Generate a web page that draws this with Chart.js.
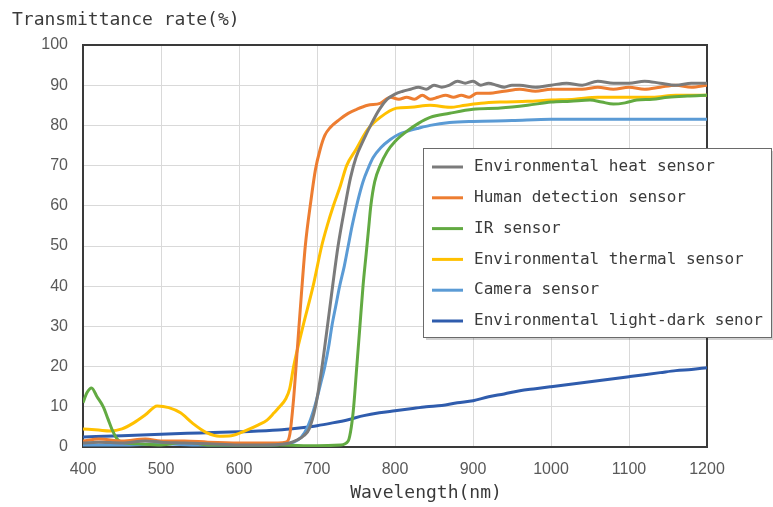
<!DOCTYPE html>
<html>
<head>
<meta charset="utf-8">
<script src="https://cdn.jsdelivr.net/npm/chart.js@4"></script>
<style>
html,body{margin:0;padding:0;background:#fff;}
canvas{display:block;}
</style>
</head>
<body>
<canvas id="c" width="773" height="507"></canvas>
<script>
// ---- data ----
const seriesLabels = ["Environmental heat sensor","Human detection sensor","IR sensor","Environmental thermal sensor","Camera sensor","Environmental light-dark senor"];
const seriesColors = ["#7b7b7b","#ED7D31","#62AA42","#FFC000","#5B9BD5","#2F5CAD"];

const heatX = [400,420,450,480,500,530,560,600,630,650,665,675,683,690,698,705,712,720,727,736,743,750,760,770,780,790,800,810,820,830,840,850,860,870,880,890,900,910,920,930,940,950,960,980,1000,1020,1040,1060,1080,1100,1120,1140,1160,1180,1200];
const heatY = [1,1.2,1,1.5,1.2,1,0.8,0.5,0.5,0.6,1,1.8,2.8,4.5,10,18,28,40,50,60,67,72,76.5,80.5,84,86.5,87.8,88.5,89,89.5,89,90,89.5,90,91,90.5,91,90,90.5,90,89.5,90,90,89.5,90,90.5,90,91,90.5,90.5,91,90.5,90,90.5,90.5];

const humanX = [400,420,450,480,500,530,560,600,630,650,660,665,670,675,680,685,692,698,704,710,717,729,740,751,765,781,794,805,815,825,835,845,855,865,875,885,895,905,920,940,960,980,1000,1020,1040,1060,1080,1100,1120,1140,1160,1180,1200];
const humanY = [1.5,2,1.5,2,1.5,1.5,1.2,1,1,1,1.2,3,12,25,38,50,61,69,74,77.5,79.5,81.5,83,84,85,85.5,87,86.5,87,86.5,87.5,86.5,87,87.5,87,87.5,87,88,88,88.5,89,88.5,89,89,89,89.5,89,89.5,89,89.5,90,89.5,90];

const irX = [400,405,411,418,426,432,438,445,455,470,500,533,560,600,650,700,730,740,744,747,751,755,759,763,766,769,774,781,790,800,815,830,845,870,900,935,970,1000,1025,1050,1065,1080,1095,1110,1130,1150,1175,1200];
const irY = [11,13.5,14.7,12.5,10,7,4,1.7,1,0.8,0.5,1.3,0.5,0.5,0.5,0.3,0.5,1.5,5,10,20,30,40,48,54,60,66,70,73.5,76,78.5,80.5,82,83,84,84.3,85,85.8,86,86.3,85.8,85.3,85.6,86.3,86.5,87,87.3,87.5];

const thermalX = [400,420,435,450,465,480,495,510,525,540,559,575,590,610,625,636,645,652,660,665,670,682,695,706,713,721,730,738,750,765,781,802,820,845,870,890,910,935,970,1000,1030,1060,1100,1130,1160,1200];
const thermalY = [4.5,4.2,4,4.5,6,8,10.2,9.8,8.5,6,3.5,2.7,2.8,4.2,5.5,6.7,8.5,10,12,14.5,20,30,40,50,55,60,65,70,74,79,82,84.3,84.5,85,84.5,85,85.5,85.8,86,86.3,86.5,87,87,87,87.5,87.5];

const cameraX = [400,450,500,550,600,640,660,670,680,688,697,705,710,715,719,724,729,735,740,745,752,759,766,772,782,794,805,815,830,845,870,900,950,1000,1050,1100,1150,1200];
const cameraY = [0.5,0.5,0.8,0.5,0.5,0.5,0.8,1.2,2.5,5,10,16,20,25,30,35,40,45,50,55,61,66,69.5,72,74.5,76.5,77.8,78.5,79.3,80,80.7,81,81.2,81.5,81.5,81.5,81.5,81.5];

const lightDarkX = [400,450,500,550,600,650,680,700,720,740,760,780,800,820,840,860,880,900,920,940,960,980,1000,1020,1040,1060,1080,1100,1120,1140,1160,1180,1200];
const lightDarkY = [2.5,2.8,3.2,3.5,3.8,4.2,4.8,5.3,6,6.8,7.8,8.5,9,9.5,10,10.3,11,11.5,12.5,13.2,14,14.5,15,15.5,16,16.5,17,17.5,18,18.5,19,19.3,19.7];

const xTicks = [400,500,600,700,800,900,1000,1100,1200];
const yTicks = [0,10,20,30,40,50,60,70,80,90,100];
const yTitle = "Transmittance rate(%)";
const xTitle = "Wavelength(nm)";

// ---- build ----
const allX = [heatX, humanX, irX, thermalX, cameraX, lightDarkX];
const allY = [heatY, humanY, irY, thermalY, cameraY, lightDarkY];
const datasets = seriesLabels.map((lab, i) => ({
  label: lab,
  data: allX[i].map((x, j) => ({x: x, y: allY[i][j]})),
  borderColor: seriesColors[i],
  backgroundColor: seriesColors[i],
  borderWidth: 3,
  pointRadius: 0,
  cubicInterpolationMode: 'monotone',
  fill: false
}));

const MONO = "'DejaVu Sans Mono', monospace";

const decor = {
  id: 'decor',
  beforeDatasetsDraw(chart) {
    const ctx = chart.ctx, a = chart.chartArea;
    ctx.save();
    ctx.strokeStyle = '#3a3a3a';
    ctx.lineWidth = 2;
    ctx.strokeRect(a.left, a.top, a.right - a.left, a.bottom - a.top);
    ctx.restore();
  },
  afterDraw(chart) {
    const ctx = chart.ctx, a = chart.chartArea;
    ctx.save();
    // titles
    ctx.fillStyle = '#3a3a3a';
    ctx.font = "18px " + MONO;
    ctx.textBaseline = 'middle';
    ctx.textAlign = 'left';
    ctx.fillText(yTitle, 12, 20);
    ctx.textAlign = 'center';
    ctx.fillText(xTitle, (a.left + a.right) / 2 + 31, a.bottom + 46);
    // legend box
    const bx = 423, by = 148, bw = 348, bh = 189;
    ctx.fillStyle = 'rgba(0,0,0,0.18)';
    ctx.fillRect(bx + 3, by + 3, bw, bh);
    ctx.fillStyle = '#ffffff';
    ctx.fillRect(bx, by, bw, bh);
    ctx.strokeStyle = '#6a6a6a';
    ctx.lineWidth = 1;
    ctx.strokeRect(bx + 0.5, by + 0.5, bw, bh);
    ctx.font = "16px " + MONO;
    ctx.textAlign = 'left';
    ctx.textBaseline = 'middle';
    chart.data.datasets.forEach((ds, i) => {
      const cy = 167 + i * 30.8;
      ctx.strokeStyle = ds.borderColor;
      ctx.lineWidth = 3;
      ctx.beginPath();
      ctx.moveTo(432, cy);
      ctx.lineTo(463, cy);
      ctx.stroke();
      ctx.fillStyle = '#3a3a3a';
      ctx.fillText(ds.label, 474, cy);
    });
    ctx.restore();
  }
};

new Chart(document.getElementById('c'), {
  type: 'line',
  data: { datasets },
  options: {
    responsive: false,
    animation: false,
    layout: { padding: { left: 0, right: 66, top: 45, bottom: 0 } },
    plugins: { legend: { display: false }, title: { display: false }, tooltip: { enabled: false } },
    scales: {
      x: {
        type: 'linear', min: 400, max: 1200,
        afterBuildTicks: s => { s.ticks = xTicks.map(v => ({ value: v })); },
        afterFit: s => { s.height = 60; },
        grid: { color: '#d9d9d9', lineWidth: 1, drawTicks: false },
        border: { display: false },
        ticks: { padding: 13, color: '#595959', font: { family: "'Liberation Sans', Arial, sans-serif", size: 16 }, maxRotation: 0, callback: v => String(v) }
      },
      y: {
        type: 'linear', min: 0, max: 100,
        afterBuildTicks: s => { s.ticks = yTicks.map(v => ({ value: v })); },
        afterFit: s => { s.width = 83; },
        grid: { color: '#d9d9d9', lineWidth: 1, drawTicks: false },
        border: { display: false },
        ticks: { padding: 15, color: '#595959', font: { family: "'Liberation Sans', Arial, sans-serif", size: 16 }, callback: v => String(v) }
      }
    }
  },
  plugins: [decor]
});
</script>
</body>
</html>
